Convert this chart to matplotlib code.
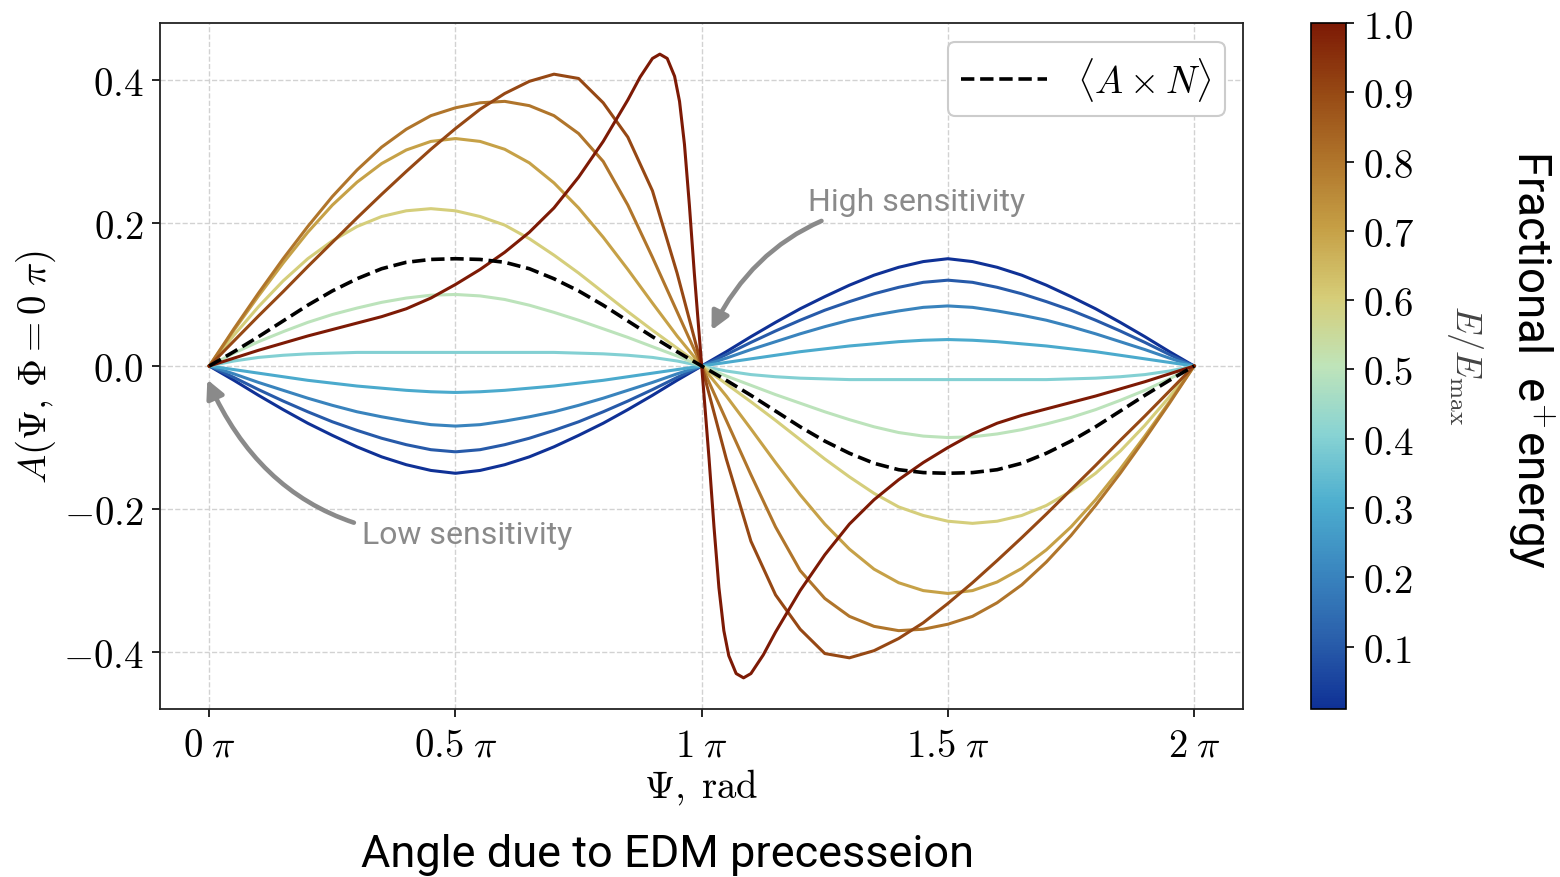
import numpy as np
import matplotlib
matplotlib.use("Agg")
import matplotlib.pyplot as plt
from matplotlib.colors import LinearSegmentedColormap, Normalize
from matplotlib.cm import ScalarMappable
from matplotlib.ticker import FixedLocator, FuncFormatter

plt.rcParams['mathtext.fontset'] = 'cm'

# sampling grid, in units of pi
psi = np.linspace(0, 2, 41)

energies = [0.01, 0.1, 0.2, 0.3, 0.4, 0.5, 0.6, 0.7, 0.8, 0.9]

a_e001 = [0, -.020, -.041, -.061, -.080, -.097, -.113, -.127, -.138, -.146, -.150,
          -.146, -.138, -.127, -.113, -.097, -.080, -.061, -.041, -.020, 0,
          .020, .041, .061, .080, .097, .113, .127, .138, .146, .150,
          .146, .138, .127, .113, .097, .080, .061, .041, .020, 0]
a_e010 = [0, -.016, -.033, -.049, -.064, -.078, -.090, -.101, -.110, -.117, -.120,
          -.117, -.110, -.101, -.090, -.078, -.064, -.049, -.033, -.016, 0,
          .016, .033, .049, .064, .078, .090, .101, .110, .117, .120,
          .117, .110, .101, .090, .078, .064, .049, .033, .016, 0]
a_e020 = [0, -.011, -.023, -.034, -.045, -.055, -.064, -.071, -.077, -.082, -.084,
          -.082, -.077, -.071, -.064, -.055, -.045, -.034, -.023, -.011, 0,
          .011, .023, .034, .045, .055, .064, .071, .077, .082, .084,
          .082, .077, .071, .064, .055, .045, .034, .023, .011, 0]
a_e030 = [0, -.005, -.010, -.015, -.020, -.024, -.028, -.031, -.034, -.036, -.037,
          -.036, -.034, -.031, -.028, -.024, -.020, -.015, -.010, -.005, 0,
          .005, .010, .015, .020, .024, .028, .031, .034, .036, .037,
          .036, .034, .031, .028, .024, .020, .015, .010, .005, 0]
a_e040 = [0, .007, .012, .015, .017, .018, .019, .019, .019, .019, .019,
          .019, .019, .019, .019, .018, .017, .015, .012, .007, 0,
          -.007, -.012, -.015, -.017, -.018, -.019, -.019, -.019, -.019, -.019,
          -.019, -.019, -.019, -.019, -.018, -.017, -.015, -.012, -.007, 0]
a_e050 = [0, .018, .034, .048, .061, .072, .081, .089, .095, .099, .100,
          .098, .093, .085, .075, .064, .052, .040, .027, .014, 0,
          -.014, -.027, -.040, -.052, -.064, -.075, -.085, -.093, -.098, -.100,
          -.099, -.095, -.089, -.081, -.072, -.061, -.048, -.034, -.018, 0]
a_e060 = [0, .043, .083, .119, .150, .175, .195, .209, .217, .220, .217,
          .209, .197, .178, .155, .130, .103, .076, .050, .025, 0,
          -.025, -.050, -.076, -.103, -.130, -.155, -.178, -.197, -.209, -.217,
          -.220, -.217, -.209, -.195, -.175, -.150, -.119, -.083, -.043, 0]
a_e070 = [0, .050, .098, .144, .187, .225, .257, .283, .302, .314, .318,
          .314, .303, .284, .256, .221, .180, .135, .088, .042, 0,
          -.042, -.088, -.135, -.180, -.221, -.256, -.284, -.303, -.314, -.318,
          -.314, -.302, -.283, -.257, -.225, -.187, -.144, -.098, -.050, 0]
a_e080 = [0, .052, .102, .150, .195, .237, .274, .306, .331, .350, .361,
          .368, .370, .364, .350, .325, .286, .225, .152, .076, 0,
          -.076, -.152, -.225, -.286, -.325, -.350, -.364, -.370, -.368, -.361,
          -.350, -.331, -.306, -.274, -.237, -.195, -.150, -.102, -.052, 0]
a_e090 = [0, .035, .070, .104, .139, .173, .207, .240, .272, .303, .332,
          .359, .381, .398, .408, .402, .368, .320, .245, .130, 0,
          -.130, -.245, -.320, -.368, -.402, -.408, -.398, -.381, -.359, -.332,
          -.303, -.272, -.240, -.207, -.173, -.139, -.104, -.070, -.035, 0]

curves = [a_e001, a_e010, a_e020, a_e030, a_e040, a_e050,
          a_e060, a_e070, a_e080, a_e090]

# highest energy curve is much sharper, sampled finer around pi
psi_e100 = [0, .05, .1, .15, .2, .25, .3, .35, .4, .45, .5, .55, .6, .65, .7, .75,
            .8, .85, .875, .9, .915, .93, .945, .955, .965, .975, .985, 1.0,
            1.015, 1.025, 1.035, 1.045, 1.055, 1.07, 1.085, 1.1, 1.125, 1.15,
            1.2, 1.25, 1.3, 1.35, 1.4, 1.45, 1.5, 1.55, 1.6, 1.65, 1.7, 1.75,
            1.8, 1.85, 1.9, 1.95, 2.0]
a_e100 = [0, .011, .022, .032, .042, .051, .060, .069, .080, .095, .114, .135,
          .159, .187, .221, .264, .314, .372, .404, .430, .436, .430, .405,
          .370, .310, .225, .130, 0,
          -.130, -.225, -.310, -.370, -.405, -.430, -.436, -.430, -.404, -.372,
          -.314, -.264, -.221, -.187, -.159, -.135, -.114, -.095, -.080, -.069,
          -.060, -.051, -.042, -.032, -.022, -.011, 0]

mean_an = [0, .020, .041, .063, .085, .105, .122, .136, .145, .149, .150,
           .149, .145, .136, .122, .105, .085, .063, .041, .020, 0,
           -.020, -.041, -.063, -.085, -.105, -.122, -.136, -.145, -.149, -.150,
           -.149, -.145, -.136, -.122, -.105, -.085, -.063, -.041, -.020, 0]

y_ticks = [-0.4, -0.2, 0.0, 0.2, 0.4]
x_ticks = [0, 0.5, 1, 1.5, 2]
x_ticklabels = [r'$0\;\pi$', r'$0.5\;\pi$', r'$1\;\pi$', r'$1.5\;\pi$', r'$2\;\pi$']
cb_ticks = [0.1, 0.2, 0.3, 0.4, 0.5, 0.6, 0.7, 0.8, 0.9, 1.0]

roma_r = LinearSegmentedColormap.from_list('roma_r', [
    (0.0, '#0f3196'), (0.1, '#2a5fab'), (0.2, '#3a86bf'), (0.3, '#4daecf'),
    (0.4, '#88d3d3'), (0.5, '#bfe4b9'), (0.6, '#d6cd78'), (0.7, '#c6a046'),
    (0.8, '#b0752b'), (0.9, '#974914'), (1.0, '#7d1a05')])
norm = Normalize(vmin=0.01, vmax=1.0)

fig = plt.figure(figsize=(15.6, 8.78), dpi=100)
ax = fig.add_axes([0.1026, 0.1913, 0.6944, 0.7814])
cax = fig.add_axes([0.8404, 0.1913, 0.0224, 0.7814])

for e, a in zip(energies, curves):
    ax.plot(psi * np.pi, a, color=roma_r(norm(e)), lw=2.2,
            solid_joinstyle='round')
ax.plot(np.array(psi_e100) * np.pi, a_e100, color=roma_r(norm(1.0)), lw=2.2,
        solid_joinstyle='round')
ax.plot(psi * np.pi, mean_an, color='black', ls='--', lw=2.6,
        label=r'$\langle A \times N \rangle$')

ax.xaxis.set_major_locator(FixedLocator(np.array(x_ticks) * np.pi))
ax.set_xticklabels(x_ticklabels)
ax.yaxis.set_major_locator(FixedLocator(y_ticks))
ax.yaxis.set_major_formatter(FuncFormatter(lambda v, p: r'$%.1f$' % v))
ax.tick_params(labelsize=28, length=6, width=1.2, direction='out', pad=6)
ax.grid(True, color='#d2d2d2', ls='--', lw=1)
for s in ax.spines.values():
    s.set_linewidth(1.3)
    s.set_color('#222222')

ax.set_xlabel(r'$\Psi,\;\mathrm{rad}$', fontsize=28)
ax.set_ylabel(r'$A(\Psi,\,\Phi = 0\;\pi)$', fontsize=28)
ax.xaxis.set_label_coords(0.5, -0.083)
ax.yaxis.set_label_coords(-0.094, 0.5)

leg = ax.legend(loc='upper right', fontsize=27, handlelength=2.3,
                fancybox=True, edgecolor='#cccccc', framealpha=1,
                borderpad=0.35)
leg.get_frame().set_linewidth(1.5)

gray = '#8a8a8a'
ax.annotate('High sensitivity', xy=(1.02 * np.pi, 0.05),
            xytext=(1.215 * np.pi, 0.23), color=gray, fontsize=23,
            family='Roboto', ha='left', va='center',
            arrowprops=dict(arrowstyle='-|>', color=gray, lw=3.3,
                            mutation_scale=27, shrinkA=4, shrinkB=0,
                            connectionstyle='arc3,rad=0.3'))
ax.annotate('Low sensitivity', xy=(-0.004 * np.pi, -0.019),
            xytext=(0.31 * np.pi, -0.236), color=gray, fontsize=23,
            family='Roboto', ha='left', va='center',
            arrowprops=dict(arrowstyle='-|>', color=gray, lw=3.3,
                            mutation_scale=27, shrinkA=4, shrinkB=0,
                            connectionstyle='arc3,rad=-0.35'))

cb = fig.colorbar(ScalarMappable(norm=norm, cmap=roma_r), cax=cax)
cb.set_ticks(cb_ticks)
cb.ax.yaxis.set_major_formatter(FuncFormatter(lambda v, p: r'$%.1f$' % v))
cb.ax.tick_params(labelsize=28, length=6, width=1.2, pad=6)
cb.outline.set_linewidth(1.2)

fig.text(0.939, 0.584, r'$E/E_{\rm max}$', rotation=-90, fontsize=26,
         color='#444444', ha='center', va='center')
fig.text(0.981, 0.59, r'Fractional  e$^{\mathsf{+}}$energy', rotation=-90,
         fontsize=33, family='Roboto', ha='center', va='center')
fig.text(0.428, 0.026, 'Angle due to EDM precesseion', fontsize=32.5,
         family='Roboto', ha='center', va='center')

fig.savefig('out.png', dpi=100)
